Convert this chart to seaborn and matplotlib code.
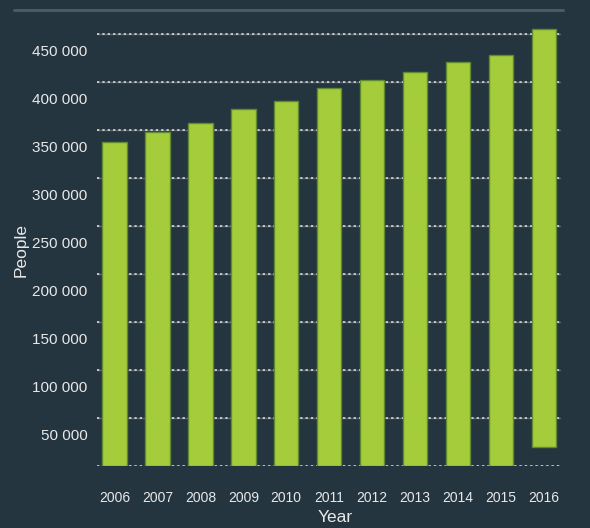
import matplotlib
matplotlib.use("Agg")

import matplotlib.pyplot as plt
import matplotlib.transforms as mtransforms
from matplotlib.lines import Line2D
import numpy as np
import pandas as pd
import seaborn as sns

# Data
years = ["2006", "2007", "2008", "2009", "2010", "2011",
         "2012", "2013", "2014", "2015", "2016"]
people_top = [336700, 347700, 357100, 371400, 379700, 393500,
              401900, 409900, 420300, 427900, 454400]
# the 2016 bar does not start at zero in the original
people_bottom = [0, 0, 0, 0, 0, 0, 0, 0, 0, 0, 19600]
y_ticks = [0, 50000, 100000, 150000, 200000, 250000,
           300000, 350000, 400000, 450000]
y_tick_labels = ["", "50 000", "100 000", "150 000", "200 000", "250 000",
                 "300 000", "350 000", "400 000", "450 000"]

BG = "#243540"
BAR = "#a5cc3a"
BAR_EDGE = "#5e8a30"
TXT = "#e8e8e8"

sns.set_style("dark")
plt.rcParams["font.family"] = ["Liberation Sans", "DejaVu Sans"]

df = pd.DataFrame({"Year": years,
                   "height": np.array(people_top) - np.array(people_bottom)})

fig = plt.figure(figsize=(5.9, 5.28), dpi=100, facecolor=BG)
ax = fig.add_axes([97.3 / 590, 1 - 465.5 / 528, 463.7 / 590, 441.6 / 528])
ax.set_facecolor(BG)

sns.barplot(data=df, x="Year", y="height", color=BAR, width=0.57,
            edgecolor=BAR_EDGE, linewidth=1, saturation=1, ax=ax, zorder=3)

# move bars onto their bottoms
for patch, b in zip(ax.patches, people_bottom):
    patch.set_y(b)

ax.set_xlim(-0.4, 10.4)
ax.set_ylim(0, 460000)
ax.set_yticks(y_ticks)
ax.set_yticklabels(y_tick_labels)

# dotted grid: dark base line + light dots
ax.yaxis.grid(True, color="#5b646b", linestyle="-", linewidth=1, zorder=1)
for v in y_ticks:
    ax.axhline(v, color="#e8e8e8", linestyle=(0, (1.5, 2)), linewidth=1.1, zorder=2)
ax.xaxis.grid(False)
for s in ax.spines.values():
    s.set_visible(False)

ax.tick_params(axis="y", colors=TXT, length=2, width=1, pad=5, labelsize=11)
ax.tick_params(axis="x", colors=TXT, length=0, pad=18, labelsize=10)

# y labels sit a bit below their grid lines in the original
offset = mtransforms.ScaledTranslation(0, -17 / 100, fig.dpi_scale_trans)
for lbl in ax.get_yticklabels():
    lbl.set_transform(lbl.get_transform() + offset)

ax.set_xlabel("Year", color=TXT, fontsize=12.5)
ax.set_ylabel("People", color=TXT, fontsize=12.5)
ax.xaxis.set_label_coords((335 - 97.3) / 463.7, -(510 - 465.5) / 441.6)
ax.yaxis.set_label_coords(-(97.3 - 29) / 463.7, (465.5 - 250) / 441.6)

# grey rule at the top of the card
fig.add_artist(Line2D([14 / 590, 563 / 590], [1 - 9.5 / 528, 1 - 9.5 / 528],
                      color="#50575e", linewidth=2.2,
                      transform=fig.transFigure))

fig.savefig("out.png", dpi=100, facecolor=BG)
